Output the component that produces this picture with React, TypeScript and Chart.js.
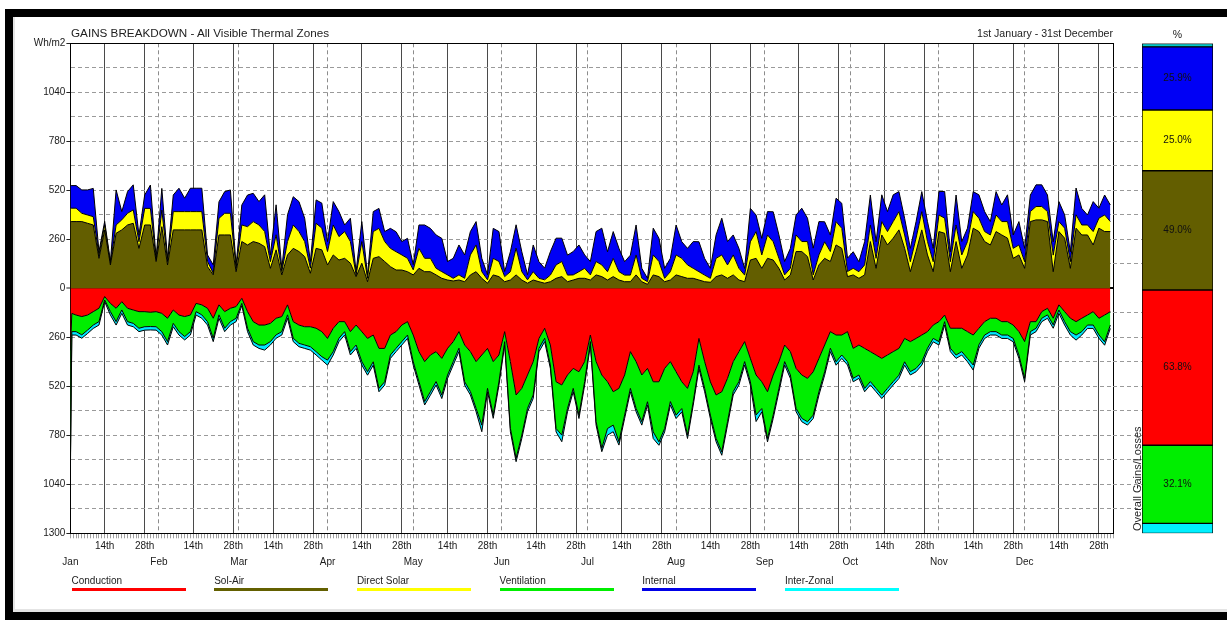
import React, { useEffect, useRef } from 'react';
import { Chart, registerables } from 'chart.js';

Chart.register(...registerables);

const FONT = '"Liberation Sans", Arial, Helvetica, sans-serif';
Chart.defaults.font.family = FONT;

// x positions (day of year) of the daily-total samples
const days = [0, 0.5,
  2, 4, 6, 8, 10, 12, 14, 16, 18, 20, 22, 24, 26, 28, 30, 32, 34, 36, 38, 40,
  42, 44, 46, 48, 50, 52, 54, 56, 58, 60, 62, 64, 66, 68, 70, 72, 74, 76, 78, 80,
  82, 84, 86, 88, 90, 92, 94, 96, 98, 100, 102, 104, 106, 108, 110, 112, 114, 116, 118, 120,
  122, 124, 126, 128, 130, 132, 134, 136, 138, 140, 142, 144, 146, 148, 150, 152, 154, 156, 158, 160,
  162, 164, 166, 168, 170, 172, 174, 176, 178, 180, 182, 184, 186, 188, 190, 192, 194, 196, 198, 200,
  202, 204, 206, 208, 210, 212, 214, 216, 218, 220, 222, 224, 226, 228, 230, 232, 234, 236, 238, 240,
  242, 244, 246, 248, 250, 252, 254, 256, 258, 260, 262, 264, 266, 268, 270, 272, 274, 276, 278, 280,
  282, 284, 286, 288, 290, 292, 294, 296, 298, 300, 302, 304, 306, 308, 310, 312, 314, 316, 318, 320,
  322, 324, 326, 328, 330, 332, 334, 336, 338, 340, 342, 344, 346, 348, 350, 352, 354, 356, 358, 360,
  362, 364];

// gains (Wh/m2)
const solAir = [354,
  354, 354, 354, 345, 336, 159, 310, 124, 292, 310, 336, 345, 212, 336, 336, 142, 327, 124, 310, 310,
  310, 310, 310, 310, 115, 71, 283, 283, 283, 88, 248, 230, 248, 239, 221, 106, 204, 71, 177, 212,
  195, 168, 80, 212, 204, 124, 177, 150, 159, 133, 62, 133, 35, 159, 168, 142, 115, 97, 97, 88,
  71, 106, 88, 88, 71, 53, 44, 39, 44, 35, 71, 88, 53, 27, 71, 62, 35, 44, 71, 44,
  27, 44, 35, 27, 35, 53, 62, 35, 44, 53, 53, 44, 71, 62, 44, 62, 44, 35, 35, 71,
  35, 21, 71, 62, 35, 44, 71, 62, 53, 53, 44, 35, 32, 62, 71, 53, 71, 44, 35, 150,
  159, 106, 159, 150, 106, 44, 71, 195, 195, 168, 44, 124, 159, 142, 230, 212, 62, 71, 53, 71,
  248, 106, 283, 230, 266, 310, 212, 88, 195, 310, 177, 88, 301, 292, 88, 248, 106, 177, 319, 301,
  248, 230, 301, 283, 266, 159, 177, 106, 354, 363, 363, 354, 88, 301, 266, 106, 319, 283, 283, 230,
  319, 301, 301];
const directSolar = [71,
  71, 71, 44, 44, 44, 18, 27, 9, 44, 53, 62, 71, 35, 88, 88, 9, 88, 18, 97, 97,
  97, 97, 97, 97, 27, 9, 88, 115, 115, 18, 88, 97, 106, 97, 80, 35, 80, 18, 71, 124,
  106, 80, 27, 133, 115, 71, 159, 124, 142, 115, 9, 115, 18, 142, 150, 106, 97, 97, 80, 71,
  27, 106, 71, 71, 35, 35, 27, 14, 27, 18, 106, 142, 35, 18, 88, 80, 27, 44, 142, 44,
  18, 44, 18, 18, 35, 71, 80, 35, 27, 35, 53, 27, 71, 62, 44, 97, 44, 35, 35, 106,
  18, 14, 106, 80, 18, 44, 106, 97, 71, 53, 44, 35, 21, 97, 106, 71, 106, 62, 35, 97,
  142, 71, 124, 97, 53, 27, 35, 88, 53, 80, 27, 53, 88, 53, 124, 106, 27, 35, 35, 53,
  88, 53, 71, 71, 88, 97, 71, 53, 71, 97, 71, 53, 88, 80, 53, 88, 71, 71, 88, 71,
  53, 53, 88, 71, 88, 53, 53, 35, 53, 71, 71, 53, 88, 53, 53, 35, 71, 53, 53, 71,
  53, 88, 53];
const internal = [120,
  120, 120, 124, 133, 150, 18, 18, 9, 186, 44, 115, 133, 35, 71, 124, 9, 115, 18, 88, 124,
  71, 124, 124, 124, 35, 44, 88, 115, 124, 18, 106, 168, 150, 124, 195, 35, 159, 18, 142, 150,
  159, 124, 35, 124, 133, 53, 124, 133, 35, 124, 18, 106, 18, 106, 106, 53, 106, 106, 71, 106,
  27, 124, 177, 159, 177, 177, 71, 106, 159, 124, 124, 124, 71, 27, 159, 159, 27, 106, 124, 106,
  27, 142, 88, 62, 124, 142, 124, 106, 124, 142, 71, 71, 159, 195, 106, 142, 124, 71, 106, 159,
  53, 18, 142, 124, 53, 71, 159, 88, 88, 142, 159, 88, 53, 124, 195, 124, 106, 106, 35, 177,
  88, 88, 124, 159, 124, 71, 106, 106, 177, 124, 142, 177, 106, 88, 124, 133, 71, 88, 53, 124,
  159, 88, 142, 106, 142, 106, 88, 71, 88, 106, 106, 71, 124, 142, 53, 159, 71, 71, 106, 124,
  106, 71, 124, 88, 142, 71, 124, 71, 88, 115, 115, 88, 71, 106, 71, 53, 142, 88, 53, 159,
  53, 106, 88];

// losses (Wh/m2, magnitudes drawn below zero)
const conduction = [330,
  133, 142, 150, 142, 124, 106, 44, 80, 106, 71, 106, 115, 124, 124, 127, 124, 133, 159, 115, 142,
  150, 142, 80, 88, 106, 159, 88, 124, 106, 97, 53, 124, 177, 195, 195, 186, 159, 150, 88, 177,
  195, 204, 204, 212, 230, 266, 212, 177, 177, 230, 195, 230, 266, 248, 319, 319, 248, 230, 195, 177,
  248, 336, 389, 354, 336, 372, 319, 283, 230, 301, 336, 389, 354, 319, 389, 354, 230, 389, 566, 531,
  460, 389, 266, 212, 301, 496, 513, 460, 425, 443, 389, 248, 389, 460, 496, 549, 531, 460, 336, 389,
  460, 425, 496, 496, 425, 389, 443, 496, 531, 443, 266, 389, 496, 566, 549, 478, 389, 336, 283, 372,
  460, 496, 549, 460, 389, 301, 336, 425, 460, 478, 443, 372, 301, 230, 248, 248, 230, 319, 301, 319,
  336, 354, 372, 354, 336, 319, 266, 283, 266, 248, 230, 195, 177, 142, 212, 212, 212, 230, 248, 212,
  177, 159, 159, 177, 177, 195, 230, 283, 177, 177, 124, 106, 159, 88, 124, 159, 177, 159, 142, 124,
  159, 142, 124];
const ventilation = [600,
  97, 88, 97, 80, 71, 71, 18, 44, 71, 44, 71, 71, 88, 80, 76, 80, 97, 124, 71, 88,
  106, 88, 44, 53, 71, 106, 53, 88, 71, 62, 27, 88, 106, 106, 106, 97, 88, 80, 53, 88,
  97, 97, 106, 124, 133, 115, 124, 88, 53, 106, 106, 159, 177, 142, 212, 177, 106, 88, 88, 71,
  142, 159, 212, 195, 159, 195, 142, 106, 88, 195, 212, 248, 372, 212, 283, 142, 53, 354, 336, 248,
  177, 177, 53, 53, 106, 248, 266, 177, 106, 230, 106, 35, 319, 389, 248, 177, 283, 212, 195, 248,
  248, 177, 266, 319, 319, 212, 230, 142, 248, 159, 142, 142, 177, 230, 319, 230, 159, 159, 106, 124,
  212, 142, 248, 212, 142, 88, 124, 212, 230, 230, 230, 177, 142, 88, 142, 106, 159, 159, 159, 212,
  159, 177, 195, 177, 159, 142, 124, 159, 159, 142, 88, 71, 106, 35, 106, 142, 124, 142, 159, 88,
  71, 71, 71, 71, 71, 71, 124, 195, 53, 35, 35, 35, 35, 27, 53, 71, 71, 71, 53, 71,
  88, 142, 71];
const interZonal = [40,
  18, 18, 18, 18, 18, 18, 9, 18, 18, 18, 18, 18, 18, 18, 18, 18, 18, 18, 18, 18,
  18, 18, 18, 18, 18, 18, 18, 18, 18, 18, 12, 18, 18, 18, 27, 18, 18, 18, 18, 18,
  18, 18, 18, 18, 18, 27, 18, 18, 18, 18, 18, 18, 18, 18, 18, 18, 18, 18, 18, 18,
  18, 18, 18, 18, 18, 18, 18, 18, 18, 18, 18, 18, 35, 18, 18, 18, 18, 18, 18, 18,
  18, 18, 18, 18, 18, 18, 35, 18, 18, 18, 18, 18, 18, 18, 35, 35, 18, 18, 18, 18,
  18, 18, 35, 18, 18, 18, 18, 18, 18, 18, 18, 18, 18, 18, 18, 18, 18, 18, 18, 18,
  35, 18, 18, 18, 18, 18, 18, 18, 18, 18, 18, 18, 18, 18, 18, 18, 18, 18, 18, 18,
  18, 18, 18, 18, 18, 18, 18, 18, 18, 18, 18, 18, 18, 18, 18, 18, 18, 18, 27, 18,
  18, 18, 18, 18, 18, 18, 18, 18, 18, 18, 18, 18, 18, 18, 18, 18, 27, 18, 18, 18,
  18, 18, 18];

// axis labels
const monthNames = ['Jan', 'Feb', 'Mar', 'Apr', 'May', 'Jun', 'Jul', 'Aug', 'Sep', 'Oct', 'Nov', 'Dec'];
const monthStarts = [0, 31, 59, 90, 120, 151, 181, 212, 243, 273, 304, 334];
const midMonthLabels = ['14th', '28th'];
const midMonthOffsets = [12, 26];
const daysInYear = 365;
const yUnitLabel = 'Wh/m2';
const yLimit = 1300;
const yGridStep = 130;
const yLabelStep = 260;

// legend
const legendNames = ['Conduction', 'Sol-Air', 'Direct Solar', 'Ventilation', 'Internal', 'Inter-Zonal'];
const legendColors = ['#ff0000', '#636000', '#ffff00', '#00ee00', '#0000e8', '#00ffff'];

// overall gains / losses (%)
const pctNames = ['Sol-Air', 'Direct Solar', 'Internal', 'Inter-Zonal gain', 'Conduction', 'Ventilation', 'Inter-Zonal loss'];
const pctValues = [49.0, 25.0, 25.9, 1.4, -63.8, -32.1, -4.1];
const pctColors = ['#635e00', '#ffff00', '#0000f5', '#00c8c8', '#ff0000', '#00ee00', '#00f0ff'];
const pctShowLabel = [true, true, true, false, true, true, false];

const midLineDays = monthStarts.flatMap((m) => midMonthOffsets.map((o) => m + o));

function xTickLabel(v: number): string | string[] {
  const m = monthStarts.indexOf(v);
  if (m >= 0) return ['', monthNames[m]];
  for (let i = 0; i < monthStarts.length; i++) {
    const k = midMonthOffsets.indexOf(v - monthStarts[i]);
    if (k >= 0) return midMonthLabels[k];
  }
  return '';
}

function yTickLabel(v: number): string {
  if (v === yLimit) return yUnitLabel;
  if (v % yLabelStep === 0) return String(Math.abs(v));
  return '';
}

export default function App() {
  const mainRef = useRef<HTMLCanvasElement>(null);
  const pctRef = useRef<HTMLCanvasElement>(null);

  useEffect(() => {
    const series = [
      { label: 'Sol-Air', values: solAir, sign: 1, color: '#635e00', fill: 'origin' },
      { label: 'Direct Solar', values: directSolar, sign: 1, color: '#ffff00', fill: '-1' },
      { label: 'Internal', values: internal, sign: 1, color: '#0000f5', fill: '-1' },
      { label: 'Conduction', values: conduction, sign: -1, color: '#ff0000', fill: 'origin' },
      { label: 'Ventilation', values: ventilation, sign: -1, color: '#00ee00', fill: '-1' },
      { label: 'Inter-Zonal', values: interZonal, sign: -1, color: '#00e8ff', fill: '-1' },
    ];

    const dayTicks = Array.from({ length: daysInYear + 1 }, (_, i) => i);

    const main = new Chart(mainRef.current as HTMLCanvasElement, {
      type: 'line',
      data: {
        labels: days,
        datasets: series.map((s) => ({
          label: s.label,
          data: s.values.map((v) => v * s.sign),
          backgroundColor: s.color,
          borderColor: '#000',
          borderWidth: 1,
          pointRadius: 0,
          tension: 0,
          fill: s.fill,
          xAxisID: 'x',
          yAxisID: 'y',
        })) as any,
      },
      options: {
        responsive: false,
        maintainAspectRatio: false,
        animation: false,
        events: [],
        layout: { padding: { top: 43.3, left: 0, right: 0.8, bottom: 5.7 } },
        plugins: { legend: { display: false }, tooltip: { enabled: false } },
        scales: {
          x: {
            type: 'linear',
            position: 'bottom',
            min: 0,
            max: daysInYear,
            z: 1,
            afterBuildTicks: (s: any) => {
              s.ticks = dayTicks.map((v) => ({ value: v }));
            },
            afterFit: (s: any) => {
              s.height = 36;
            },
            ticks: {
              autoSkip: false,
              maxRotation: 0,
              minRotation: 0,
              padding: 0,
              color: '#1a1a1a',
              font: { family: FONT, size: 10, lineHeight: 1.6 },
              callback: (v: any) => xTickLabel(Number(v)),
            },
            grid: {
              color: (ctx: any) => {
                const v = ctx.tick ? ctx.tick.value : -1;
                if (v > 0 && monthStarts.includes(v)) return '#8c8c8c';
                if (midLineDays.includes(v)) return '#4a4a4a';
                return 'rgba(0,0,0,0)';
              },
              lineWidth: 1,
              drawTicks: true,
              tickLength: 5,
              tickColor: '#a0a0a0',
              tickWidth: 1,
            },
            border: {
              color: '#000',
              width: 1,
              dash: (ctx: any) => (ctx.tick && monthStarts.includes(ctx.tick.value) ? [4, 3] : []),
            },
          } as any,
          x2: {
            type: 'linear',
            position: 'top',
            min: 0,
            max: daysInYear,
            z: 1,
            grid: { display: false, drawTicks: false },
            ticks: { display: false },
            border: { color: '#000', width: 1 },
            afterFit: (s: any) => {
              s.height = 0;
            },
          } as any,
          y: {
            type: 'linear',
            position: 'left',
            min: -yLimit,
            max: yLimit,
            stacked: true,
            z: 1,
            afterFit: (s: any) => {
              s.width = 70.4;
            },
            ticks: {
              stepSize: yGridStep,
              autoSkip: false,
              padding: 1,
              color: '#1a1a1a',
              font: { family: FONT, size: 10 },
              callback: (v: any) => yTickLabel(Number(v)),
            },
            grid: {
              color: (ctx: any) => {
                const v = ctx.tick ? ctx.tick.value : 1;
                if (v === 0) return '#000';
                if (Math.abs(v) === yLimit) return 'rgba(0,0,0,0)';
                return '#9a9a9a';
              },
              lineWidth: (ctx: any) => (ctx.tick && ctx.tick.value === 0 ? 2 : 1),
              tickLength: 4,
              tickColor: (ctx: any) => (ctx.tick && ctx.tick.value % yLabelStep === 0 ? '#222' : 'rgba(0,0,0,0)'),
              tickWidth: 1,
            },
            border: {
              color: '#000',
              width: 1,
              dash: (ctx: any) => (ctx.tick && ctx.tick.value !== 0 ? [4, 3] : []),
            },
          } as any,
          y2: {
            type: 'linear',
            position: 'right',
            min: -yLimit,
            max: yLimit,
            z: 1,
            grid: { display: false, drawTicks: false },
            ticks: { display: false },
            border: { color: '#000', width: 1 },
            afterFit: (s: any) => {
              s.width = 0;
            },
          } as any,
        },
      },
    });

    const pctLabelPlugin = {
      id: 'pctLabels',
      afterDatasetsDraw(chart: any) {
        const c = chart.ctx;
        c.save();
        c.font = `10px ${FONT}`;
        c.fillStyle = '#111';
        c.textAlign = 'center';
        c.textBaseline = 'middle';
        chart.data.datasets.forEach((ds: any, i: number) => {
          if (!pctShowLabel[i]) return;
          const el = chart.getDatasetMeta(i).data[0];
          const v = ds.data[0] as number;
          c.fillText(Math.abs(v).toFixed(1) + '%', el.x, (el.y + el.base) / 2);
        });
        c.restore();
      },
    };

    const pct = new Chart(pctRef.current as HTMLCanvasElement, {
      type: 'bar',
      data: {
        labels: [''],
        datasets: pctNames.map((n, i) => ({
          label: n,
          data: [pctValues[i]],
          backgroundColor: pctColors[i],
          borderColor: '#000',
          borderWidth: 1,
          borderSkipped: false,
          barPercentage: 1,
          categoryPercentage: 1,
          xAxisID: 'x',
          yAxisID: 'yPct',
        })) as any,
      },
      options: {
        responsive: false,
        maintainAspectRatio: false,
        animation: false,
        events: [],
        layout: { padding: { top: 43.3, bottom: 41.7, left: 0, right: 0 } },
        plugins: { legend: { display: false }, tooltip: { enabled: false } },
        scales: {
          x: { display: false, stacked: true },
          yMain: {
            type: 'linear',
            position: 'left',
            min: -yLimit,
            max: yLimit,
            ticks: { display: false, stepSize: yGridStep },
            grid: {
              drawOnChartArea: false,
              drawTicks: true,
              tickLength: 29,
              tickColor: (ctx: any) => {
                const v = ctx.tick ? ctx.tick.value : 0;
                if (v === 0 || Math.abs(v) === yLimit) return 'rgba(0,0,0,0)';
                return '#9a9a9a';
              },
              tickWidth: 1,
              tickBorderDash: [4, 3],
            },
            border: { display: false },
            afterFit: (s: any) => {
              s.width = 29;
            },
          } as any,
          yPct: {
            type: 'linear',
            position: 'right',
            min: -100,
            max: 101.4,
            stacked: true,
            z: 1,
            ticks: { display: false, stepSize: 50 },
            grid: {
              color: (ctx: any) => (ctx.tick && ctx.tick.value === 0 ? '#000' : 'rgba(0,0,0,0)'),
              lineWidth: (ctx: any) => (ctx.tick && ctx.tick.value === 0 ? 2 : 1),
              tickLength: 7,
            },
            border: { display: false },
            afterFit: (s: any) => {
              s.width = 7;
            },
          } as any,
        },
      },
      plugins: [pctLabelPlugin],
    });

    return () => {
      main.destroy();
      pct.destroy();
    };
  }, []);

  const textBase: React.CSSProperties = {
    position: 'absolute',
    whiteSpace: 'nowrap',
    color: '#222',
    fontFamily: FONT,
  };

  return (
    <div
      style={{
        position: 'fixed',
        left: 0,
        top: 0,
        width: 1227,
        height: 620,
        background: '#fff',
        overflow: 'hidden',
        fontFamily: FONT,
      }}
    >
      <div
        style={{
          position: 'absolute',
          left: 5,
          top: 9,
          width: 1240,
          height: 611,
          border: '8px solid #000',
          boxSizing: 'border-box',
          boxShadow: 'inset 2px -3px 0 #e4e4e4',
        }}
      />
      <canvas ref={mainRef} width={1114} height={575} style={{ position: 'absolute', left: 0, top: 0 }} />
      <canvas ref={pctRef} width={107} height={575} style={{ position: 'absolute', left: 1113, top: 0 }} />

      <div style={{ ...textBase, left: 71, top: 26, fontSize: 11.7, lineHeight: '14px' }}>
        GAINS BREAKDOWN - All Visible Thermal Zones
      </div>
      <div style={{ ...textBase, left: 900, width: 213, top: 27, fontSize: 10.6, lineHeight: '13px', textAlign: 'right' }}>
        1st January - 31st December
      </div>
      <div style={{ ...textBase, left: 1142, width: 71, top: 28, fontSize: 10.5, lineHeight: '13px', textAlign: 'center' }}>
        %
      </div>
      <div
        style={{
          ...textBase,
          left: 1131,
          top: 531,
          fontSize: 11,
          lineHeight: '12px',
          transform: 'rotate(-90deg)',
          transformOrigin: 'left top',
        }}
      >
        Overall Gains/Losses
      </div>

      {legendNames.map((n, i) => (
        <div key={n} style={{ position: 'absolute', left: 71.5 + i * 142.7, top: 574, width: 114 }}>
          <div style={{ ...textBase, position: 'static', fontSize: 10, lineHeight: '13px' }}>{n}</div>
          <div style={{ marginTop: 1, height: 3, width: 114, background: legendColors[i] }} />
        </div>
      ))}
    </div>
  );
}
